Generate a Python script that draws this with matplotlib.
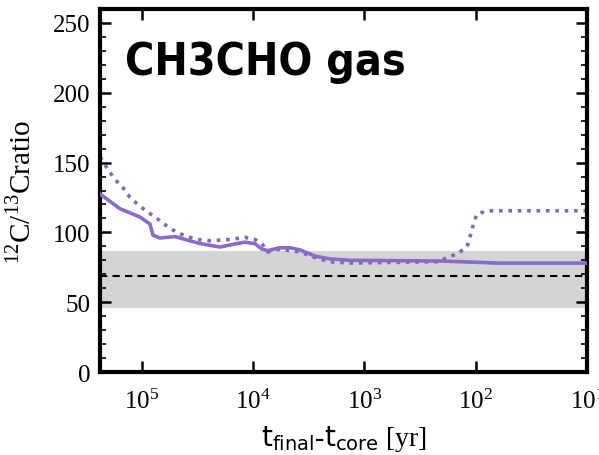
import matplotlib
matplotlib.use('Agg')
import matplotlib.pyplot as plt
from matplotlib.ticker import MultipleLocator, LogLocator, NullLocator

plt.rcParams['font.family'] = ['Liberation Serif', 'DejaVu Serif']
plt.rcParams['mathtext.fontset'] = 'custom'
plt.rcParams['mathtext.rm'] = 'Liberation Serif'
plt.rcParams['mathtext.sf'] = 'DejaVu Sans'

# solid: ratio vs t_final - t_core [yr]
t_solid = [2.38e5, 1.58e5, 1.04e5, 8.47e4, 7.96e4, 6.89e4, 5.05e4, 4.11e4, 3.01e4,
           1.99e4, 1.46e4, 1.19e4, 9.66e3, 8.36e3, 7.38e3, 5.75e3, 4.68e3, 3.80e3,
           2.79e3, 2.05e3, 1.35e3, 210, 139, 61, 10]
r_solid = [127.5, 117, 111, 106, 98, 96, 97, 95, 92,
           89.5, 91.7, 93, 92, 88, 87, 89, 89, 87.5,
           83, 81, 80, 79.5, 79, 78, 78]

# dotted
t_dot = [2.38e5, 2.02e5, 1.75e5, 1.48e5, 1.28e5, 1.09e5, 9.02e4, 7.33e4, 5.96e4,
         4.85e4, 3.94e4, 3.21e4, 2.45e4, 1.99e4, 1.55e4, 1.19e4, 9.66e3, 8.36e3,
         7.38e3, 5.75e3, 3.80e3, 2.79e3, 2.05e3, 1.35e3, 210, 182, 148, 120,
         113, 106, 98, 79, 10]
r_dot = [154, 145, 138, 132, 125, 120, 115, 110, 104.5,
         100, 97, 95, 94, 94.5, 95, 96.5, 95, 92,
         86, 88, 86, 82, 79, 78, 79, 82, 84.5, 89.5,
         96.5, 104.5, 113, 115.5, 115.5]

obs_ratio = 69
obs_low, obs_high = 46, 87

purple = '#8a6bc9'

fig = plt.figure(figsize=(5.99, 4.56), dpi=100)
ax = fig.add_axes([0.167, 0.182, 0.813, 0.796])

ax.axhspan(obs_low, obs_high, color='#d4d4d4', lw=0, zorder=0)
ax.axhline(obs_ratio, color='black', ls=(0, (3.5, 2.5)), lw=1.5, zorder=1)
ax.plot(t_solid, r_solid, color=purple, lw=2.6, zorder=3)
ax.plot(t_dot, r_dot, color='#7e68b8', lw=2.6, ls=(0, (1, 1.6)), zorder=2)

ax.set_xscale('log')
ax.set_xlim(2.38e5, 10)
ax.set_ylim(0, 260)
ax.xaxis.set_major_locator(LogLocator(base=10, numticks=10))
ax.xaxis.set_minor_locator(NullLocator())
ax.yaxis.set_major_locator(MultipleLocator(50))
ax.yaxis.set_minor_locator(MultipleLocator(10))

for s in ax.spines.values():
    s.set_linewidth(3)
ax.tick_params(which='both', direction='in', top=True, right=True, labelsize=18)
ax.tick_params(which='major', length=8, width=1.8, pad=7)
ax.tick_params(which='minor', length=4, width=1.2)
ax.tick_params(axis='x', which='major', pad=12)

ax.set_xlabel(r'$\mathsf{t_{final}}$-$\mathsf{t_{core}}$ [yr]', fontsize=20)
ax.set_ylabel(r'$^{12}$C/$^{13}$Cratio', fontsize=21)
ax.xaxis.set_label_coords(0.5, -0.14)
ax.yaxis.set_label_coords(-0.13, 0.5)

ax.text(0.051, 0.821, 'CH3CHO gas', transform=ax.transAxes, fontsize=32,
        fontweight='bold', fontstretch='condensed',
        family=['DejaVu Sans'], va='baseline', ha='left')

fig.savefig('out.png', dpi=100)
